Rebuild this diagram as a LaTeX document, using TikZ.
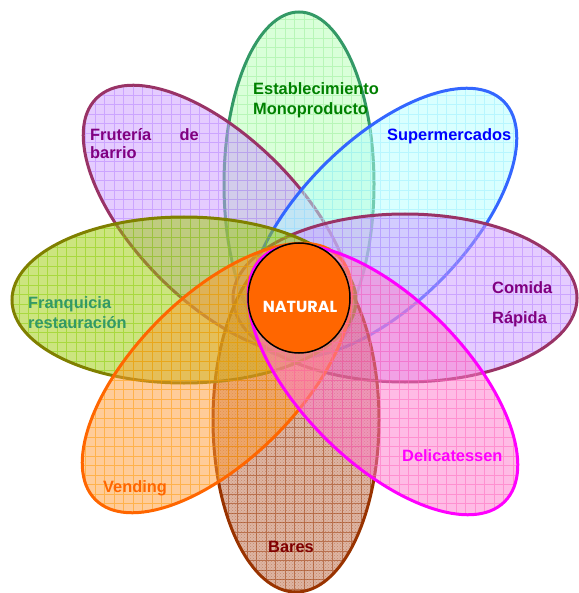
\documentclass[tikz,border=0pt]{standalone}
\usepackage{fontspec}
\setmainfont{Liberation Sans}
\newfontfamily\badgefont{Poppins}
\usetikzlibrary{patterns,shapes.geometric}

% petal colours: fill, grid, border, label
\definecolor{frutFill}{HTML}{CC99FF}
\definecolor{frutGrid}{HTML}{B380FF}
\definecolor{plumLine}{HTML}{993366}
\definecolor{plumText}{HTML}{800080}
\definecolor{monoFill}{HTML}{B3FFB3}
\definecolor{monoGrid}{HTML}{99EE99}
\definecolor{monoLine}{HTML}{339966}
\definecolor{monoText}{HTML}{008000}
\definecolor{superFill}{HTML}{B3FFFF}
\definecolor{superGrid}{HTML}{99EEFF}
\definecolor{superLine}{HTML}{3366FF}
\definecolor{superText}{HTML}{0000FF}
\definecolor{franFill}{HTML}{99CC00}
\definecolor{franGrid}{HTML}{88CC00}
\definecolor{franLine}{HTML}{808000}
\definecolor{franText}{HTML}{339966}
\definecolor{vendFill}{HTML}{FF9933}
\definecolor{vendGrid}{HTML}{FF9900}
\definecolor{vendLine}{HTML}{FF6600}
\definecolor{vendText}{HTML}{FF6600}
\definecolor{deliFill}{HTML}{FF77CC}
\definecolor{deliGrid}{HTML}{FF66BB}
\definecolor{deliLine}{HTML}{FF00FF}
\definecolor{deliText}{HTML}{FF00FF}
\definecolor{baresFill}{HTML}{B35A33}
\definecolor{baresGrid}{HTML}{993300}
\definecolor{baresLine}{HTML}{993300}
\definecolor{baresText}{HTML}{800000}
\definecolor{coreFill}{HTML}{FF6600}

\tikzset{
  lbl/.style={font=\fontsize{16.4}{18}\selectfont\bfseries, inner sep=0pt, anchor=base west},
  petalgrid/.style={line width=0.7pt, opacity=0.5},
  petalrim/.style={line width=3pt},
}

% square grid over the whole sheet, clipped by the enclosing scope
\newcommand\sheetgrid[1]{%
  \begin{scope}[reset cm]
    \draw[#1, petalgrid] (0pt,-593pt) grid[step=9.5pt] (578pt,0pt);
  \end{scope}}

% one translucent petal with its grid: centre x, centre y, tilt, x radius, y radius, fill, grid, rim
\newcommand\flowerpetal[8]{%
  \begin{scope}[shift={(#1,#2)}, rotate=#3]
    \fill[#6, fill opacity=0.5] (0,0) ellipse [x radius=#4, y radius=#5];
    \begin{scope}
      \clip (0,0) ellipse [x radius=#4, y radius=#5];
      \sheetgrid{#7}
    \end{scope}
    \draw[#8, petalrim] (0,0) ellipse [x radius=#4, y radius=#5];
  \end{scope}}

\begin{document}
\begin{tikzpicture}[x=1pt, y=-1pt]
  \useasboundingbox (0,0) rectangle (578,593);

  % petals, back to front
  \flowerpetal{299}{184}{0}{75}{172}{monoFill}{monoGrid}{monoLine}
  \flowerpetal{218}{220}{-45}{172}{82}{frutFill}{frutGrid}{plumLine}
  \flowerpetal{382}{223}{45}{172}{82}{superFill}{superGrid}{superLine}
  \flowerpetal{405}{298}{0}{172}{84}{frutFill}{frutGrid}{plumLine}
  % bares petal carries an extra fine dotted texture
  \begin{scope}[shift={(296,420)}]
    \fill[baresFill, fill opacity=0.45] (0,0) ellipse [x radius=83, y radius=172];
    \fill[pattern=crosshatch dots, pattern color=baresGrid, fill opacity=0.35] (0,0) ellipse [x radius=83, y radius=172];
    \begin{scope}
      \clip (0,0) ellipse [x radius=83, y radius=172];
      \sheetgrid{baresGrid}
    \end{scope}
    \draw[baresLine, petalrim] (0,0) ellipse [x radius=83, y radius=172];
  \end{scope}
  \flowerpetal{184}{300}{0}{172}{83}{franFill}{franGrid}{franLine}
  \flowerpetal{217}{378}{45}{172}{82}{vendFill}{vendGrid}{vendLine}
  \flowerpetal{383}{380}{-45}{172}{82}{deliFill}{deliGrid}{deliLine}

  % centre
  \node[ellipse, draw=black, line width=1.5pt, fill=coreFill, minimum width=102pt, minimum height=110pt, inner sep=0pt] (core) at (299,298) {};
  \node[text=white, font=\badgefont\bfseries\fontsize{16}{18}\selectfont, inner sep=0pt] (corelabel) at (300,306.5) {NATURAL};

  % petal labels
  \node[lbl, text=monoText] (mono1) at (253,95) {Establecimiento};
  \node[lbl, text=monoText] (mono2) at (253,115) {Monoproducto};
  \node[lbl, text=plumText] (frut1) at (90,141) {Frutería};
  \node[lbl, text=plumText, anchor=base east] (frut2) at (199,141) {de};
  \node[lbl, text=plumText] (frut3) at (90,159) {barrio};
  \node[lbl, text=superText] (super) at (387,141) {Supermercados};
  \node[lbl, text=plumText] (comida1) at (492,293) {Comida};
  \node[lbl, text=plumText] (comida2) at (492,323) {Rápida};
  \node[lbl, text=franText] (fran1) at (28,308) {Franquicia};
  \node[lbl, text=franText] (fran2) at (28,328) {restauración};
  \node[lbl, text=vendText] (vend) at (103,492) {Vending};
  \node[lbl, text=baresText] (bares) at (268,552) {Bares};
  \node[lbl, text=deliText] (deli) at (402,461) {Delicatessen};
\end{tikzpicture}
\end{document}
